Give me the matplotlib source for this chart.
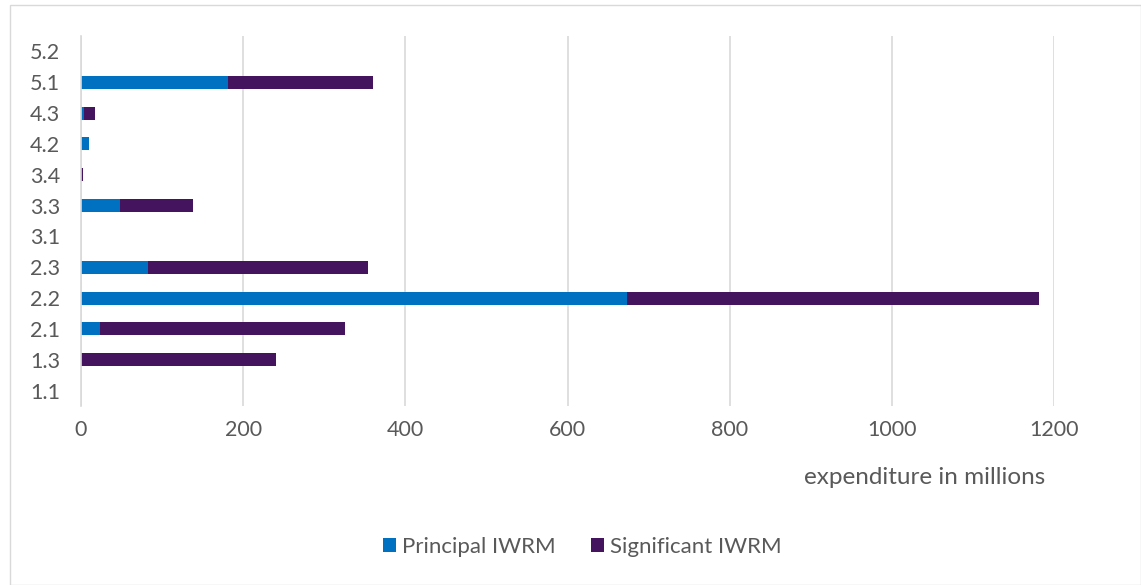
import matplotlib
matplotlib.use("Agg")
import matplotlib.pyplot as plt
from matplotlib.patches import Rectangle

categories = ["1.1", "1.3", "2.1", "2.2", "2.3", "3.1", "3.3", "3.4", "4.2", "4.3", "5.1", "5.2"]
principal = [0, 0, 23, 673, 83, 0, 48, 0, 10, 4, 181, 0]
significant = [0, 240, 302, 508, 271, 0, 90, 2, 0, 13, 179, 0]
xticks = [0, 200, 400, 600, 800, 1000, 1200]

plt.rcParams['font.family'] = ['Lato', 'DejaVu Sans']
W, H = 1141, 585
fig = plt.figure(figsize=(W / 100, H / 100), dpi=100)
ax = fig.add_axes([81 / W, 1 - 406 / H, (1054 - 81) / W, (406 - 36) / H])

y = range(len(categories))
c1 = "#0070C0"
c2 = "#44155E"
ax.barh(y, principal, height=0.42, color=c1, label="Principal IWRM", zorder=3)
ax.barh(y, significant, left=principal, height=0.42, color=c2, label="Significant IWRM", zorder=3)

ax.set_yticks(list(y))
ax.set_yticklabels(categories)
ax.set_ylim(-0.5, len(categories) - 0.5)
ax.set_xlim(0, 1200)
ax.set_xticks(xticks)
ax.set_xticklabels([str(v) for v in xticks])
ax.grid(axis="x", color="#D9D9D9", linewidth=1.2, zorder=0)
ax.tick_params(axis="both", length=0, labelsize=15.5, labelcolor="#595959")
ax.tick_params(axis="y", pad=15)
ax.tick_params(axis="x", pad=10)
for s in ["top", "right", "bottom"]:
    ax.spines[s].set_visible(False)
ax.spines["left"].set_color("#D9D9D9")
ax.spines["left"].set_linewidth(1.2)
ax.spines["left"].set_zorder(4)

fig.text(1045 / W, 1 - 478 / H, "expenditure in millions", ha="right", va="center",
         fontsize=17.5, color="#595959")

leg = fig.legend(loc="center", bbox_to_anchor=(582 / W, 1 - 547 / H), ncol=2, frameon=False,
                 fontsize=16, handlelength=0.6, handleheight=0.6, columnspacing=1.6,
                 handletextpad=0.25)
for t in leg.get_texts():
    t.set_color("#595959")

fig.patches.append(Rectangle((10 / W, 0), 1 - 10 / W - 0.5 / W, 1 - 5 / H, transform=fig.transFigure,
                             fill=False, edgecolor="#D9D9D9", linewidth=1))

fig.savefig("out.png", dpi=100)
